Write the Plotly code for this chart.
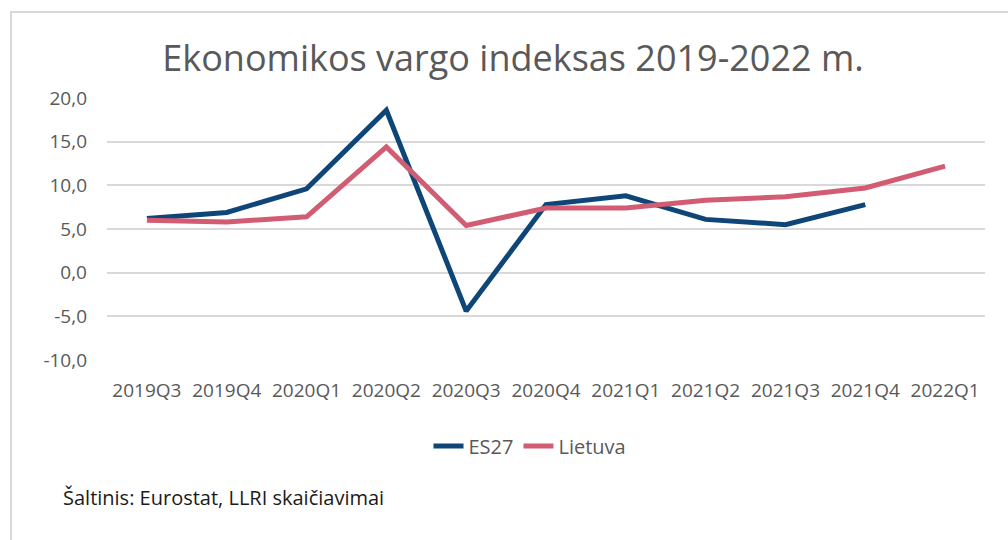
import plotly.graph_objects as go

categories = ["2019Q3", "2019Q4", "2020Q1", "2020Q2", "2020Q3", "2020Q4",
              "2021Q1", "2021Q2", "2021Q3", "2021Q4", "2022Q1"]
es27 = [6.2, 6.9, 9.6, 18.6, -4.4, 7.8, 8.8, 6.1, 5.5, 7.8, None]
lietuva = [6.0, 5.8, 6.4, 14.4, 5.4, 7.4, 7.4, 8.3, 8.7, 9.7, 12.2]
y_ticks = [-10, -5, 0, 5, 10, 15, 20]
y_tick_text = ["-10,0", "-5,0", "0,0", "5,0", "10,0", "15,0", "20,0"]

FONT = "Open Sans"
W, H = 1008, 540
ML, MR, MT, MB = 107, 23, 98, 180
PW = W - ML - MR
PH = H - MT - MB

def px_x(px):
    return (px - ML) / PW

def px_y(py):
    return (H - MB - py) / PH

fig = go.Figure()
fig.add_trace(go.Scatter(x=categories, y=es27, name="ES27", mode="lines",
                         line=dict(color="#0F4678", width=5),
                         connectgaps=False))
fig.add_trace(go.Scatter(x=categories, y=lietuva, name="Lietuva", mode="lines",
                         line=dict(color="#D25D73", width=5)))

fig.update_layout(
    template="none",
    width=W, height=H,
    margin=dict(l=ML, r=MR, t=MT, b=MB, autoexpand=False),
    paper_bgcolor="white", plot_bgcolor="white",
    font=dict(family=FONT, color="#595959", size=19),
    title=dict(text="Ekonomikos vargo indeksas 2019-2022 m.",
               x=513 / W, xref="container", xanchor="center",
               y=1 - 58 / H, yref="container", yanchor="middle",
               font=dict(family=FONT, size=36, color="#595959")),
    showlegend=True,
    legend=dict(orientation="h", xref="container", yref="container",
                x=530 / W, xanchor="center", y=1 - 446 / H, yanchor="middle",
                font=dict(family=FONT, size=20, color="#595959"),
                itemwidth=30, bgcolor="rgba(0,0,0,0)"),
    xaxis=dict(type="category", range=[-0.5, len(categories) - 0.5],
               showgrid=False, zeroline=False, automargin=False,
               showline=False, ticks="", ticklabelstandoff=17,
               tickfont=dict(family=FONT, size=19, color="#595959")),
    yaxis=dict(range=[-10, 20], tickvals=y_ticks, ticktext=y_tick_text,
               showgrid=True, gridcolor="#D9D9D9", gridwidth=1.5,
               zeroline=False, showline=False, ticks="", automargin=False,
               ticklabelstandoff=19,
               tickfont=dict(family=FONT, size=19, color="#595959")),
    shapes=[dict(type="rect", xref="paper", yref="paper",
                 x0=px_x(11), x1=px_x(1020), y0=px_y(560), y1=px_y(12),
                 line=dict(color="#D9D9D9", width=2), fillcolor="rgba(0,0,0,0)",
                 layer="below")],
    annotations=[dict(text="Šaltinis: Eurostat, LLRI skaičiavimai",
                      xref="paper", yref="paper", x=px_x(61), y=px_y(497),
                      xanchor="left", yanchor="middle", showarrow=False,
                      font=dict(family=FONT, size=20, color="#1a1a1a"))],
)

fig.write_html("out.html",
               config={"displayModeBar": False},
               post_script="document.body.style.margin='0';document.body.style.overflow='hidden';")
